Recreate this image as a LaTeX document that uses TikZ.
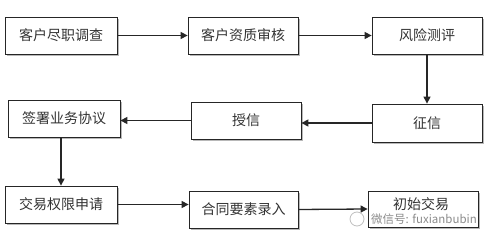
\documentclass[tikz,border=0pt]{standalone}
\usepackage{fontspec}
\newfontfamily\cjk{Noto Sans CJK SC}
\usetikzlibrary{arrows.meta}
\begin{document}
\begin{tikzpicture}[x=1pt,y=1pt,
  box/.style={draw=black!85, line width=0.8pt, fill=white, minimum height=37pt,
    inner sep=0pt, font=\cjk\fontsize{14}{16}\selectfont, text=black!80},
  lbl/.style={inner sep=0pt, font=\cjk\fontsize{14}{16}\selectfont, text=black!80},
  conn/.style={line width=1.3pt, draw=black!85, -{Triangle[length=7pt,width=7pt]}}]
\useasboundingbox (0,0) rectangle (494,240);
\fill[white] (0,0) rectangle (494,240);
% shadows
\foreach \cx/\cy/\w/\h in {61/204.5/112/37, 243/204.5/110/37, 427/204.5/110/37,
  427/117/110/38, 246/119.5/110/37, 64/121.5/112/37, 61/35.5/112/37,
  243.5/30.5/109/37, 423/31/110/36}
  \fill[black!28] (\cx-\w/2+2,\cy-\h/2-2) rectangle (\cx+\w/2+2,\cy+\h/2-2);
\node[box, minimum width=112pt] (b1) at (61,204.5) {客户尽职调查};
\node[box, minimum width=110pt] (b2) at (243,204.5) {客户资质审核};
\node[box, minimum width=110pt] (b3) at (427,204.5) {风险测评};
\node[box, minimum width=110pt, minimum height=38pt] (b4) at (427,117) {征信};
\node[box, minimum width=110pt] (b5) at (246,119.5) {授信};
\node[box, minimum width=112pt] (b6) at (64,121.5) {签署业务协议};
\node[box, minimum width=112pt] (b7) at (61,35.5) {交易权限申请};
\node[box, minimum width=109pt] (b8) at (243.5,30.5) {合同要素录入};
\node[box, minimum width=110pt, minimum height=36pt] (b9) at (423,31) {};
\node[lbl] (t9) at (421,35.5) {初始交易};
\draw[conn] (b1.east) -- (b2.west);
\draw[conn] (b2.east) -- (b3.west);
\draw[conn] (b3.south) -- (b4.north);
\draw[conn] (b4.west) -- (b4.west -| b5.east);
\draw[conn] (b5.west) -- (b5.west -| b6.east);
\draw[conn] (b7.north |- b6.south) -- (b7.north);
\draw[conn] (b7.east) -- (b7.east -| b8.west);
\draw[conn] (b8.east) -- (b9.west);
% watermark
\node[circle, draw=black!25, line width=0.8pt, minimum size=14pt, inner sep=0pt] (logo) at (357,21) {};
\node[anchor=west, inner sep=0pt, text=black!45, font=\cjk\fontsize{11.5}{13}\selectfont] (wm) at (371,20.5) {微信号: fuxianbubin};
\end{tikzpicture}
\end{document}
